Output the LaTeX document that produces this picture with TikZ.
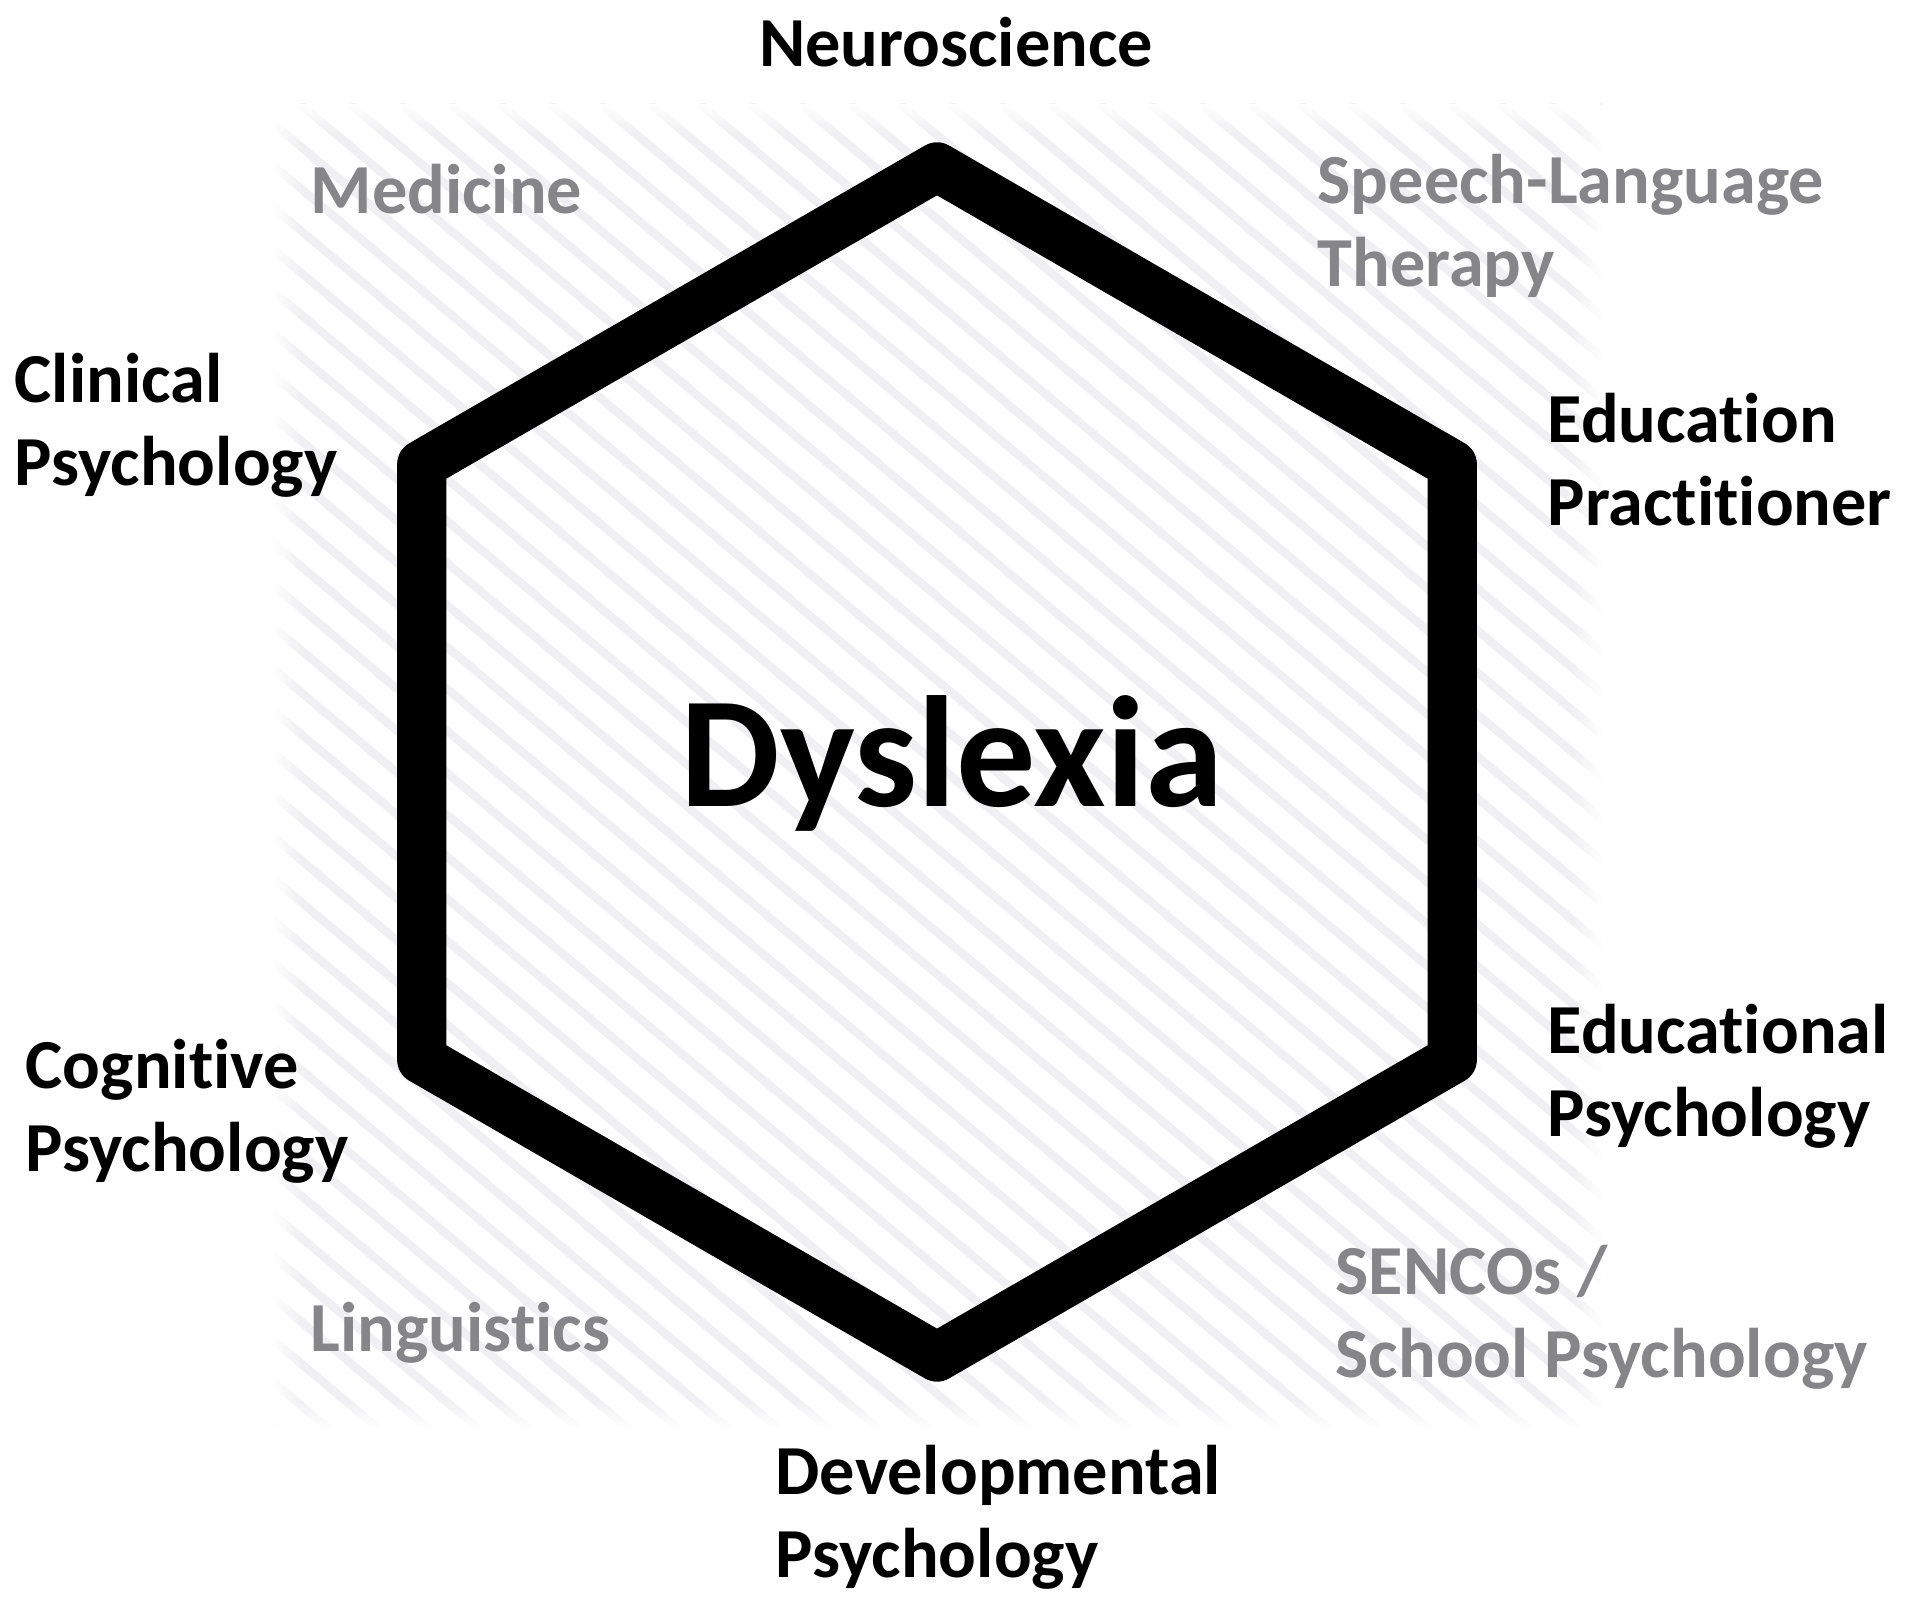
\documentclass[tikz,border=0pt]{standalone}
\usepackage{fontspec}
\setmainfont{Carlito}[Ligatures={NoCommon,NoRare}]
\usetikzlibrary{fadings}
\definecolor{labgray}{RGB}{134,134,138}
\definecolor{hatchgray}{RGB}{240,240,244}

\begin{document}
\begin{tikzpicture}[
    lab/.style={font=\fontsize{20}{23.8}\selectfont\bfseries, align=left, anchor=base west, inner sep=0pt},
    side/.style={lab, text=labgray},
    hatch/.style={hatchgray, line width=2.4pt},
    hexline/.style={line width=14pt, line join=round}
  ]
  \useasboundingbox (0,0) rectangle (19.08,16);

  % light hatching behind everything, soft edges
  \begin{scope}
    \clip (2.72,1.71) rectangle (16.02,14.96);
    \foreach \s in {-13.5,-13,...,16.5}
      \draw [hatch] (\s,14.96) -- ++(-40:22);
  \end{scope}
  \fill [white, path fading=east] (2.72,1.71) rectangle (3.02,14.96);
  \fill [white, path fading=west] (15.72,1.71) rectangle (16.02,14.96);
  \fill [white, path fading=south] (2.72,14.66) rectangle (16.02,14.96);
  \fill [white, path fading=north] (2.72,1.71) rectangle (16.02,2.01);

  \draw [hexline, shift={(9.37,8.38)}] (90:5.95) -- (150:5.95) -- (210:5.95)
    -- (270:5.95) -- (330:5.95) -- (30:5.95) -- cycle;

  \node (1) [font=\fontsize{45}{53}\selectfont\bfseries, anchor=base, inner sep=0pt] at (9.52,7.93) {Dyslexia};

  % main fields (base = last line)
  \node (2) [lab, anchor=base] at (9.56,15.33) {Neuroscience};
  \node (3) [lab] at (15.47,10.74) {Education\\Practitioner};
  \node (4) [lab] at (15.47,4.63) {Educational\\Psychology};
  \node (5) [lab] at (7.75,0.22) {Developmental\\Psychology};
  \node (6) [lab] at (0.25,4.28) {Cognitive\\Psychology};
  \node (7) [lab] at (0.14,11.14) {Clinical\\Psychology};

  % other fields
  \node (8) [side] at (13.17,13.13) {Speech-Language\\Therapy};
  \node (9) [side] at (13.35,2.22) {SENCOs /\\School Psychology};
  \node (10) [side] at (3.10,2.48) {Linguistics};
  \node (11) [side] at (3.10,13.86) {Medicine};
\end{tikzpicture}
\end{document}
